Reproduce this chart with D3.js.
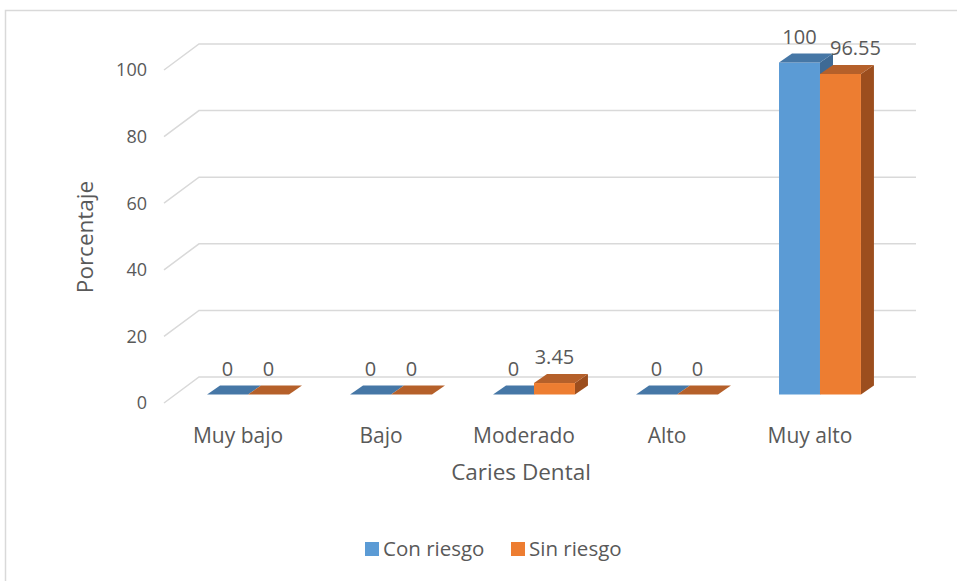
<!DOCTYPE html>
<html>
<head>
<meta charset="utf-8">
<script src="https://cdn.jsdelivr.net/npm/d3@7/dist/d3.min.js"></script>
<style>
  html, body { margin: 0; padding: 0; background: #fff; }
  svg { display: block; }
  text { font-family: "Open Sans", Lato, sans-serif; fill: #595959; }
</style>
</head>
<body>
<svg id="chart" width="957" height="581"></svg>
<script>
// Data
const categories = ["Muy bajo", "Bajo", "Moderado", "Alto", "Muy alto"];
const seriesNames = ["Con riesgo", "Sin riesgo"];
const conRiesgo = [0, 0, 0, 0, 100];
const sinRiesgo = [0, 0, 3.45, 0, 96.55];
const yTicks = [0, 20, 40, 60, 80, 100];

const seriesValues = [conRiesgo, sinRiesgo];
const colors = {
  front: ["#5B9BD5", "#ED7D31"],
  top:   ["#4677A6", "#B5602A"],
  side:  ["#3E6A95", "#9C4E1E"]
};

const svg = d3.select("#chart");

// Outer chart frame
svg.append("path")
  .attr("d", "M5.5,581 L5.5,10.5 L957,10.5")
  .attr("fill", "none").attr("stroke", "#D9D9D9").attr("stroke-width", 1.5);

// 3D layout: back wall and the side-wall depth offset
const wallBackLeft = 199, wallRight = 916;
const wallDepth = { dx: -35, dy: 26 };      // back wall -> front edge of the side wall
const barDepth = { dx: 13, dy: -9 };        // front face -> back face of a bar

const yBack = d3.scaleLinear().domain([0, 100]).range([377, 44]);
const yBar = d3.scaleLinear().domain([0, 100]).range([394.5, 62.5]);

const x = d3.scaleBand().domain(categories).range([146, 922])
  .paddingInner(0.427).paddingOuter(0.427);
const xSub = d3.scaleBand().domain(seriesNames).range([0, x.bandwidth()]);

// Gridlines on side wall and back wall
const grid = svg.append("g");
yTicks.forEach(t => {
  const yb = yBack(t);
  grid.append("path")
    .attr("d", `M${wallBackLeft + wallDepth.dx},${yb + wallDepth.dy} L${wallBackLeft},${yb} L${wallRight},${yb}`)
    .attr("fill", "none").attr("stroke", "#D9D9D9").attr("stroke-width", 1.5);
});

// Y tick labels at the front edge of the side wall
svg.append("g").selectAll("text").data(yTicks).join("text")
  .attr("x", 147)
  .attr("y", d => yBack(d) + wallDepth.dy)
  .attr("dy", "0.35em")
  .attr("text-anchor", "end")
  .attr("font-size", 18)
  .text(d => d);

// 3D bars
const bars = svg.append("g");
categories.forEach((cat, i) => {
  seriesNames.forEach((s, j) => {
    const v = seriesValues[j][i];
    const x0 = x(cat) + xSub(s);
    const x1 = x0 + xSub.bandwidth();
    const yb = yBar(0), yt = yBar(v);
    const dx = barDepth.dx, dy = barDepth.dy;
    // side face
    bars.append("path")
      .attr("d", `M${x1},${yt} L${x1 + dx},${yt + dy} L${x1 + dx},${yb + dy} L${x1},${yb} Z`)
      .attr("fill", colors.side[j]);
    // front face
    bars.append("rect")
      .attr("x", x0).attr("y", yt)
      .attr("width", x1 - x0).attr("height", Math.max(0, yb - yt))
      .attr("fill", colors.front[j]);
    // top face
    bars.append("path")
      .attr("d", `M${x0},${yt} L${x0 + dx},${yt + dy} L${x1 + dx},${yt + dy} L${x1},${yt} Z`)
      .attr("fill", colors.top[j]);
  });
});

// Data labels
const labels = svg.append("g");
categories.forEach((cat, i) => {
  seriesNames.forEach((s, j) => {
    const v = seriesValues[j][i];
    let cx = x(cat) + xSub(s) + xSub.bandwidth() / 2;
    // keep the label of a shorter neighbouring bar clear of the taller one's label
    if (j === 1 && v > 50 && seriesValues[0][i] > v) cx += 15;
    labels.append("text")
      .attr("x", cx)
      .attr("y", yBar(v) + barDepth.dy - 10)
      .attr("text-anchor", "middle")
      .attr("font-size", 20)
      .text(String(v));
  });
});

// Category labels
svg.append("g").selectAll("text").data(categories).join("text")
  .attr("x", d => x(d) + x.bandwidth() / 2 - 10)
  .attr("y", 436)
  .attr("dy", "0.35em")
  .attr("text-anchor", "middle")
  .attr("font-size", 21)
  .text(d => d);

// Axis titles
svg.append("text")
  .attr("x", 521).attr("y", 472).attr("dy", "0.35em")
  .attr("text-anchor", "middle").attr("font-size", 22.5)
  .text("Caries Dental");

svg.append("text")
  .attr("transform", "translate(85,237) rotate(-90)")
  .attr("dy", "0.35em")
  .attr("text-anchor", "middle").attr("font-size", 22.5)
  .text("Porcentaje");

// Legend
const legend = svg.append("g");
const legendX = [365, 511];
seriesNames.forEach((s, j) => {
  legend.append("rect")
    .attr("x", legendX[j]).attr("y", 542)
    .attr("width", 14).attr("height", 14)
    .attr("fill", colors.front[j]);
  legend.append("text")
    .attr("x", legendX[j] + 18).attr("y", 549).attr("dy", "0.35em")
    .attr("font-size", 20.5)
    .text(s);
});
</script>
</body>
</html>
